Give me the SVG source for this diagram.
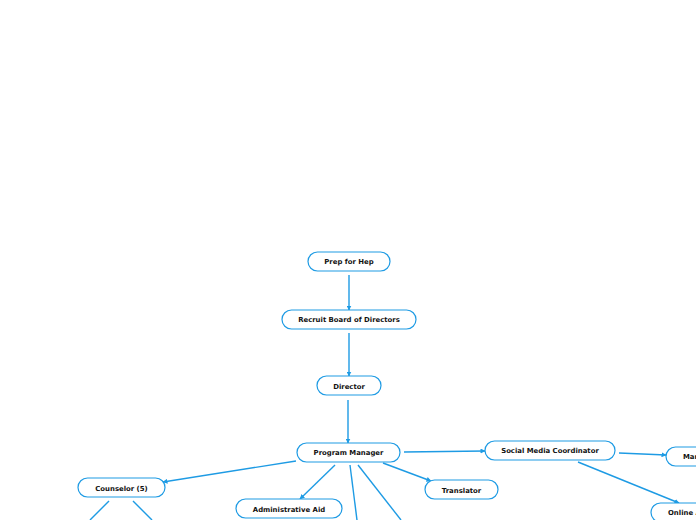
<svg xmlns="http://www.w3.org/2000/svg" width="696" height="520" viewBox="0 0 696 520">
<style>
.n rect{fill:#fff;stroke:#1e9be4;stroke-width:1.2}
.n text{font-family:"DejaVu Sans",Verdana,sans-serif;font-weight:bold;font-size:6.9px;fill:#111;text-anchor:middle}
.c line{stroke:#1e9be4;stroke-width:1.4;fill:none}
</style>
<defs>
<marker id="a" viewBox="0 0 10 10" refX="9" refY="5" markerWidth="5" markerHeight="5" orient="auto" markerUnits="userSpaceOnUse">
<path d="M0,0 L10,5 L0,10 z" fill="#1e9be4"/>
</marker>
</defs>
<rect width="696" height="520" fill="#fff"/>
<g class="c">
<line x1="349" y1="275" x2="349" y2="310" marker-end="url(#a)"/>
<line x1="349" y1="333" x2="349" y2="376" marker-end="url(#a)"/>
<line x1="348" y1="400" x2="348" y2="443" marker-end="url(#a)"/>
<line x1="296" y1="461" x2="163" y2="482" marker-end="url(#a)"/>
<line x1="335" y1="465" x2="300" y2="499" marker-end="url(#a)"/>
<line x1="350" y1="465" x2="357" y2="520"/>
<line x1="358" y1="465" x2="401" y2="520"/>
<line x1="383" y1="463" x2="431" y2="481" marker-end="url(#a)"/>
<line x1="404" y1="452" x2="485" y2="451" marker-end="url(#a)"/>
<line x1="619" y1="453" x2="666" y2="455" marker-end="url(#a)"/>
<line x1="578" y1="462" x2="679" y2="503" marker-end="url(#a)"/>
<line x1="109" y1="501" x2="90" y2="520"/>
<line x1="133" y1="501" x2="152" y2="520"/>
</g>
<g id="prep" class="n"><rect x="308" y="252" width="82" height="19" rx="9.5"/><text x="349" y="264">Prep for Hep</text></g>
<g id="recruit" class="n"><rect x="282" y="310" width="134" height="19" rx="9.5"/><text x="349" y="322">Recruit Board of Directors</text></g>
<g id="director" class="n"><rect x="317" y="376" width="64" height="19" rx="9.5"/><text x="349" y="388.5">Director</text></g>
<g id="pm" class="n"><rect x="297" y="443" width="103" height="19" rx="9.5"/><text x="348.5" y="455">Program Manager</text></g>
<g id="smc" class="n"><rect x="485" y="441" width="130" height="19" rx="9.5"/><text x="550" y="453">Social Media Coordinator</text></g>
<g id="mar" class="n"><rect x="666" y="447" width="60" height="19" rx="9.5"/><text x="683" y="459" style="text-anchor:start">Mar</text></g>
<g id="online" class="n"><rect x="651" y="503" width="80" height="19" rx="9.5"/><text x="668" y="515" style="text-anchor:start">Online A</text></g>
<g id="counselor" class="n"><rect x="78" y="478" width="87" height="19" rx="9.5"/><text x="121.5" y="490.5">Counselor (5)</text></g>
<g id="admin" class="n"><rect x="236" y="499" width="106" height="19" rx="9.5"/><text x="289" y="511.5">Administrative Aid</text></g>
<g id="translator" class="n"><rect x="425" y="480" width="73" height="19" rx="9.5"/><text x="461.5" y="492.5">Translator</text></g>
</svg>
